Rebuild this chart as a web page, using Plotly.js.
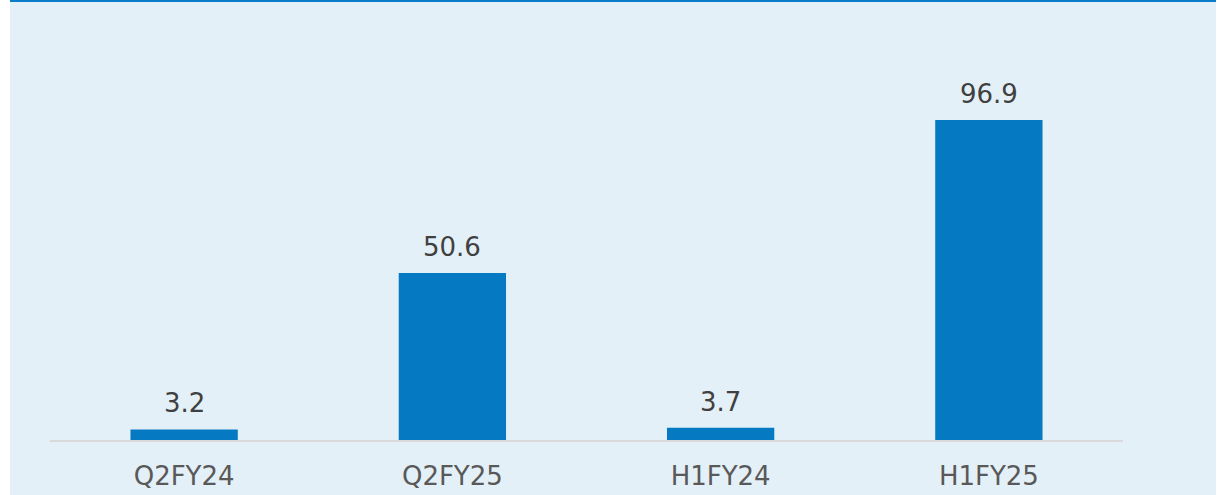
<!DOCTYPE html>
<html>
<head>
<meta charset="utf-8">
<script src="https://cdn.plot.ly/plotly-3.0.1.min.js"></script>
<style>
  html, body { margin: 0; padding: 0; background: #ffffff; }
  #wrap { position: absolute; left: 10px; top: 0; width: 1206px; height: 495px; }
  #topline { position: absolute; left: 0; top: 0; width: 1206px; height: 2px; background: #0A7CC9; z-index: 5; }
  #chart { position: absolute; left: 0; top: 0; width: 1206px; height: 495px; }
</style>
</head>
<body>
<div id="wrap">
  <div id="chart"></div>
  <div id="topline"></div>
</div>
<script>
const categories = ["Q2FY24", "Q2FY25", "H1FY24", "H1FY25"];
const values = [3.2, 50.6, 3.7, 96.9];
const valueLabels = ["3.2", "50.6", "3.7", "96.9"];

const trace = {
  type: "bar",
  x: categories,
  y: values,
  marker: { color: "#0579C1" },
  hoverinfo: "skip",
  cliponaxis: false
};

const annotations = categories.map((c, i) => ({
  x: c, y: values[i], xref: "x", yref: "y",
  text: valueLabels[i], showarrow: false,
  yanchor: "bottom", yshift: 9,
  font: { family: "DejaVu Sans, sans-serif", size: 26, color: "#404040" }
}));

const layout = {
  width: 1206, height: 495,
  margin: { l: 40, r: 93, t: 20, b: 55 },
  paper_bgcolor: "#E4F0F8",
  plot_bgcolor: "#E4F0F8",
  bargap: 0.6,
  showlegend: false,
  xaxis: {
    type: "category",
    showline: true, linecolor: "#D9D9D9", linewidth: 2,
    ticks: "", showgrid: false, zeroline: false,
    ticklabelstandoff: 12,
    tickfont: { family: "DejaVu Sans, sans-serif", size: 26, color: "#595959" }
  },
  yaxis: {
    range: [0, 127.2],
    visible: false, showgrid: false, zeroline: false
  },
  annotations: annotations
};

Plotly.newPlot("chart", [trace], layout, { displayModeBar: false, staticPlot: true });
</script>
</body>
</html>
